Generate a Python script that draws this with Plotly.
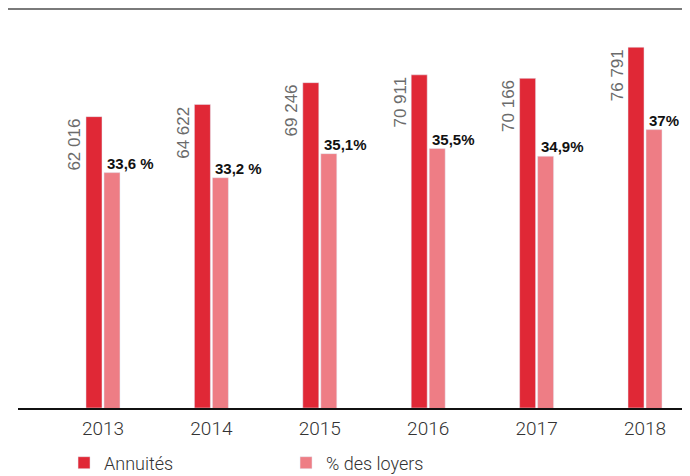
import plotly.graph_objects as go

years = ["2013", "2014", "2015", "2016", "2017", "2018"]
annuites = [62016, 64622, 69246, 70911, 70166, 76791]
annuites_labels = ["62 016", "64 622", "69 246", "70 911", "70 166", "76 791"]
pct_loyers = [33.6, 33.2, 35.1, 35.5, 34.9, 37.0]
pct_labels = ["33,6 %", "33,2 %", "35,1%", "35,5%", "34,9%", "37%"]

DARK = "#E02836"
PINK = "#EE7D85"
COND = "Roboto, sans-serif"

fig = go.Figure()
fig.add_trace(go.Bar(x=years, y=annuites, name="Annuités", marker_color=DARK,
                     offsetgroup="a", yaxis="y", hoverinfo="skip"))
fig.add_trace(go.Bar(x=years, y=pct_loyers, name="% des loyers", marker_color=PINK,
                     offsetgroup="b", yaxis="y2", hoverinfo="skip"))

for i, (v, t) in enumerate(zip(annuites, annuites_labels)):
    fig.add_annotation(x=i, y=v, xref="x", yref="y", text=t, showarrow=False,
                       textangle=-90, xanchor="center", yanchor="top", xshift=-28,
                       font=dict(family="Liberation Sans, Arial, sans-serif", size=17, color="#6b6b6b"))
for i, (v, t) in enumerate(zip(pct_loyers, pct_labels)):
    fig.add_annotation(x=i, y=v, xref="x", yref="y2", text="<b>" + t + "</b>", showarrow=False,
                       xanchor="left", yanchor="bottom", xshift=2, yshift=-1,
                       font=dict(family="Liberation Sans, Arial, sans-serif", size=15, color="#111111"))

fig.add_shape(type="line", xref="paper", yref="paper", x0=-0.0164, x1=0.9955, y0=1, y1=1,
              line=dict(color="#7a7a7a", width=2))

fig.update_layout(
    width=682, height=468,
    margin=dict(l=10, r=0, t=1, b=68),
    paper_bgcolor="white", plot_bgcolor="white",
    barmode="group", bargap=0.668, bargroupgap=0.11,
    showlegend=True,
    legend=dict(orientation="h", x=0.0685, xanchor="left", yref="container", y=0.0278,
                yanchor="middle", entrywidth=177,
                font=dict(family=COND, size=18, color="#333333", weight=300),
                itemclick=False, itemdoubleclick=False),
    xaxis=dict(type="category", range=[-0.784, 5.415], showline=True, linecolor="#111111",
               linewidth=2, ticks="", showgrid=False, ticklabelstandoff=2,
               tickfont=dict(family=COND, size=19, color="#333333", weight=300)),
    yaxis=dict(range=[0, 84923], visible=False, showgrid=False),
    yaxis2=dict(range=[15, 46.53], overlaying="y", visible=False, showgrid=False),
)

fig.write_html("out.html")
